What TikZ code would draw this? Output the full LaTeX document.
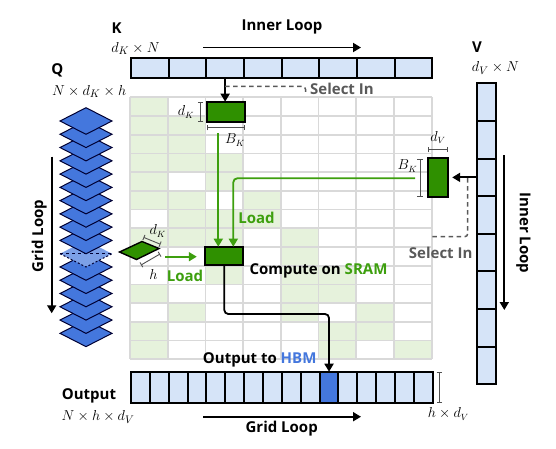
\documentclass[tikz,border=0pt]{standalone}
\usepackage{fontspec}
\setsansfont{Open Sans}
\usetikzlibrary{arrows.meta,calc}
\definecolor{cellblue}{HTML}{D6E4F8}
\definecolor{qblue}{HTML}{4477DD}
\definecolor{tilegreen}{HTML}{2F9000}
\definecolor{loadgreen}{HTML}{3D9F0E}
\definecolor{gridgreen}{HTML}{E6F2DC}
\definecolor{gridgray}{HTML}{D9D9D9}
\definecolor{selgray}{HTML}{595959}
\definecolor{dimgray}{HTML}{505050}
\begin{document}
\begin{tikzpicture}[x=1pt,y=-1pt,
  lbl/.style={font=\sffamily\bfseries\fontsize{15}{18}\selectfont, inner sep=0pt},
  mth/.style={font=\fontsize{15}{18}\selectfont, inner sep=0pt},
  smth/.style={font=\fontsize{13.5}{16}\selectfont, inner sep=0pt},
  cellbox/.style={draw=black, fill=cellblue, line width=2pt, inner sep=0pt, outer sep=0pt},
  tilebox/.style={draw=black, fill=tilegreen, line width=2pt, inner sep=0pt, outer sep=0pt},
  gridline/.style={draw=gridgray, line width=1.8pt},
  blkarrow/.style={draw=black, line width=1.8pt, -{Triangle[length=8pt,width=9pt]}},
  grnarrow/.style={draw=loadgreen, line width=1.8pt, -{Triangle[length=8pt,width=9pt]}},
  seldash/.style={draw=selgray, line width=1.5pt, dash pattern=on 4.5pt off 3.5pt},
  dimline/.style={draw=dimgray, line width=0.9pt, {Bar[width=5.5pt]}-{Bar[width=5.5pt]}},
  qdia/.style={fill=qblue, draw=black!80!blue, line width=1pt, line join=miter},
]
\useasboundingbox (0,0) rectangle (556,448);

% ---------- grid ----------
\foreach \c/\r in {1/1, 1/2,2/2, 1/3,2/3, 1/4,2/4,3/4, 1/5,3/5, 1/6,2/6,4/6,
  2/7,3/7,4/7, 1/8,2/8,3/8,5/8, 5/9, 3/10,5/10,6/10, 1/11,5/11,6/11,
  2/12,5/12,7/12, 1/13,6/13,7/13, 1/14,6/14,8/14}
  \fill[gridgreen] ({130+(\c-1)*37.7},{97.3+(\r-1)*18.714}) rectangle ++(37.7,18.714);
\foreach \i in {0,...,8}
  \draw[gridline] ({130+\i*37.7},97.3) -- ({130+\i*37.7},359.3);
\foreach \j in {0,...,14}
  \draw[gridline] (130,{97.3+\j*18.714}) -- (431.6,{97.3+\j*18.714});

% ---------- K ----------
\node[lbl] (Klbl) at (116.7,28.3) {K};
\node[mth] (Kdim) at (135.5,48.5) {$d_K\times N$};
\node[lbl] (innerT) at (282,27) {Inner Loop};
\coordinate (itA) at (203,47.5);
\coordinate (itB) at (361,47.5);
\draw[blkarrow] (itA) -- (itB);
\foreach \i in {1,...,8}
  \node[cellbox, minimum width=37.66pt, minimum height=20pt] (k\i) at ({131+(\i-0.5)*37.66},68.3) {};
\node[tilebox, minimum width=38.3pt, minimum height=20pt] (ktile) at (225.85,111.7) {};
\draw[blkarrow] (k3.south) -- (k3.south |- ktile.north);
\coordinate (selKs) at ($(k3.south)+(0,8)$);
\coordinate (selKe) at (305.5,94);
\draw[seldash, rounded corners=3pt] (selKs) -| (selKe);
\node[lbl, text=selgray, anchor=west] (selK) at (310,89) {Select In};
\coordinate (dk1) at (200.7,102);
\coordinate (dk2) at (200.7,121.5);
\draw[dimline] (dk1) -- (dk2);
\node[smth] (dKlbl) at (186,112) {$d_K$};
\coordinate (bk1) at (207,127.7);
\coordinate (bk2) at (245,127.7);
\draw[dimline] (bk1) -- (bk2);
\node[smth] (bKlbl) at (235,140) {$B_K$};

% ---------- V ----------
\node[lbl] (Vlbl) at (477,46.7) {V};
\node[mth] (Vdim) at (495.5,68) {$d_V\times N$};
\foreach \i in {1,...,8}
  \node[cellbox, minimum width=19.3pt, minimum height=37.63pt] (v\i) at (486.35,{83.3+(\i-0.5)*37.63}) {};
\node[tilebox, minimum width=19.4pt, minimum height=38.4pt] (vtile) at (438,177.5) {};
\coordinate (dv1) at (428.3,149.5);
\coordinate (dv2) at (447.7,149.5);
\draw[dimline] (dv1) -- (dv2);
\node[smth] (dVlbl) at (438,137.5) {$d_V$};
\coordinate (bv1) at (420,159);
\coordinate (bv2) at (420,196.5);
\draw[dimline] (bv1) -- (bv2);
\node[smth] (bVlbl) at (407.5,166) {$B_K$};
\draw[blkarrow, shorten >=4.5pt] (v3.west) -- (v3.west -| vtile.east);
\coordinate (selVs) at (467.7,178);
\coordinate (selVe) at (432.3,236.7);
\draw[seldash, rounded corners=3pt] (selVs) |- (selVe);
\node[lbl, text=selgray] (selV) at (440.7,253.3) {Select In};
\node[lbl, rotate=-90] (innerR) at (523.3,233) {Inner Loop};
\coordinate (irA) at (504.3,155);
\coordinate (irB) at (504.3,310);
\draw[blkarrow] (irA) -- (irB);

% ---------- Q ----------
\node[lbl] (Qlbl) at (57.3,70.7) {Q};
\node[mth] (Qdim) at (89.2,91.7) {$N\times d_K\times h$};
\foreach \k in {16,15,...,0} {
  \pgfmathsetmacro\cy{121+\k*13.27}
  \ifnum\k=10
    \fill[qblue!70] (60,\cy) -- (86,{\cy-13.3}) -- (112,\cy) -- (86,{\cy+13.3}) -- cycle;
    \draw[draw=black!80!blue, line width=1pt, dash pattern=on 2pt off 2pt]
      (60,\cy) -- (86,{\cy+13.3}) -- (112,\cy);
    \draw[draw=black!80!blue, line width=1pt, dash pattern=on 3pt off 3pt]
      (60,\cy) -- (112,\cy);
  \else
    \filldraw[qdia] (60,\cy) -- (86,{\cy-13.3}) -- (112,\cy) -- (86,{\cy+13.3}) -- cycle;
  \fi
}
\node[lbl, rotate=90] (gridL) at (39.3,236) {Grid Loop};
\coordinate (glA) at (51.7,156.7);
\coordinate (glB) at (51.7,313.3);
\draw[blkarrow] (glA) -- (glB);

% Q tile
\filldraw[fill=tilegreen, draw=black, line width=1.4pt, line join=miter]
  (119.5,252) -- (142,241.5) -- (159,248.5) -- (136.5,259.5) -- cycle;
\coordinate (qd1) at (143.5,237.3);
\coordinate (qd2) at (160.5,244.3);
\draw[dimline] (qd1) -- (qd2);
\node[smth] (qdK) at (157.7,231) {$d_K$};
\coordinate (qh1) at (141,265);
\coordinate (qh2) at (160,254);
\draw[dimline] (qh1) -- (qh2);
\node[smth] (qh) at (153.5,274) {$h$};

% ---------- compute ----------
\node[tilebox, minimum width=38pt, minimum height=18.6pt] (comp) at (224.3,256) {};
\coordinate (qtip) at (165,256.7);
\draw[grnarrow, shorten >=8.5pt] (qtip) -- (qtip -| comp.west);
\coordinate (l1s) at (218.3,133);
\draw[grnarrow] (l1s) -- (l1s |- comp.north);
\coordinate (l2s) at (415,178.3);
\draw[grnarrow, rounded corners=4pt] (l2s) -| ($(comp.north)+(9,0)$);
\node[lbl, text=loadgreen] (load1) at (256.5,218.3) {Load};
\node[lbl, text=loadgreen] (load2) at (185,276) {Load};
\node[lbl, anchor=west] (compl) at (249.3,271) {Compute on \textcolor{loadgreen}{SRAM}};

% ---------- output ----------
\foreach \i in {1,...,16}
  \node[cellbox, minimum width=18.86pt, minimum height=31.6pt] (o\i) at ({131+(\i-0.5)*18.86},387.5) {};
\node[cellbox, fill=qblue, minimum width=18.86pt, minimum height=31.6pt] (oHL) at (o11) {};
\coordinate (bend) at (227,314);
\draw[blkarrow, rounded corners=4pt] (comp.south) |- (bend -| oHL.north) -- (oHL.north);
\node[lbl] (otoh) at (259.7,360) {Output to \textcolor{qblue}{HBM}};
\coordinate (ob1) at (439.3,372);
\coordinate (ob2) at (439.3,403);
\draw[dimline] (ob1) -- (ob2);
\node[smth] (obl) at (448.3,414) {$h\times d_V$};
\node[lbl] (Olbl) at (89,396) {Output};
\node[mth] (Odim) at (98,417) {$N\times h\times d_V$};
\node[lbl] (gridB) at (281.7,428.3) {Grid Loop};
\coordinate (gbA) at (203.3,416.7);
\coordinate (gbB) at (361,416.7);
\draw[blkarrow] (gbA) -- (gbB);
\end{tikzpicture}
\end{document}
